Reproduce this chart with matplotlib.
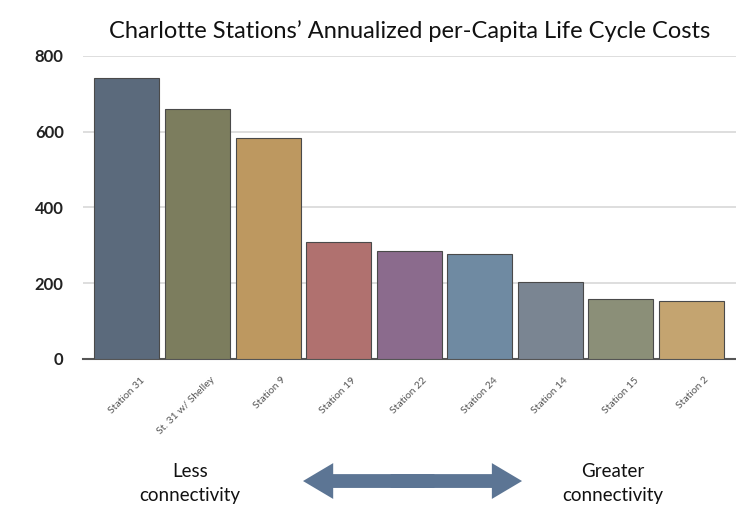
import matplotlib
matplotlib.use('Agg')
import matplotlib.pyplot as plt
import matplotlib.transforms as mtransforms
from matplotlib.patches import FancyArrow

plt.rcParams['font.family'] = ['Lato', 'DejaVu Sans']

stations = ['Station 31', 'St. 31 w/ Shelley', 'Station 9', 'Station 19', 'Station 22',
            'Station 24', 'Station 14', 'Station 15', 'Station 2']
costs = [741, 660, 584, 309, 286, 277, 203, 158, 154]
colors = ['#5b6a7c', '#7c7d5e', '#bd9860', '#b0716f', '#8b6b8d',
          '#6f8aa2', '#7a8592', '#8b8f78', '#c4a470']
yticks = [0, 200, 400, 600, 800]

fig = plt.figure(figsize=(7.36, 5.12), dpi=100)
ax = fig.add_axes([0.113, 0.299, 0.887, 0.592])

x = range(len(stations))
ax.bar(x, costs, width=0.92, color=colors, edgecolor='#4a4a4a', linewidth=0.8, zorder=3)

ax.set_xlim(-0.62, 8.63)
ax.set_ylim(0, 800)
ax.set_yticks(yticks)
ax.set_yticklabels([str(t) for t in yticks], fontsize=12, fontweight='bold', color='#222222')
ax.yaxis.grid(True, color='#d8d8d8', linewidth=1.2, zorder=0)
ax.tick_params(axis='y', length=0, pad=14)
ax.tick_params(axis='x', length=0, pad=4)
ax.set_xticks(list(x))
ax.set_xticklabels(stations, rotation=45, ha='right', rotation_mode='anchor',
                   fontsize=7.5, color='#555555')
# labels sit a bit right of and below the bar centres
shift = mtransforms.ScaledTranslation(13 / 100, -11 / 100, fig.dpi_scale_trans)
for lbl in ax.get_xticklabels():
    lbl.set_transform(lbl.get_transform() + shift)
for s in ['top', 'right', 'left']:
    ax.spines[s].set_visible(False)
ax.spines['bottom'].set_color('#555555')
ax.spines['bottom'].set_linewidth(1.5)

fig.text(0.556, 0.94, "Charlotte Stations\u2019 Annualized per-Capita Life Cycle Costs",
         ha='center', va='center', fontsize=17, color='#111111')

# connectivity arrow (two halves that overlap in the middle)
fig.text(0.258, 0.055, 'Less\nconnectivity', ha='center', va='center',
         fontsize=13.5, color='#111111', linespacing=1.5)
fig.text(0.832, 0.055, 'Greater\nconnectivity', ha='center', va='center',
         fontsize=13.5, color='#111111', linespacing=1.5)
cx, cy = 0.5605, 0.0605
half = 0.1488
for d in (half, -half):
    fig.patches.append(FancyArrow(cx - 0.2 * d, cy, 1.2 * d, 0, width=0.027, head_width=0.070,
                                  head_length=0.041, length_includes_head=True,
                                  facecolor='#5c7594', edgecolor='none', linewidth=0,
                                  transform=fig.transFigure, figure=fig))

fig.savefig('out.png', dpi=100)
